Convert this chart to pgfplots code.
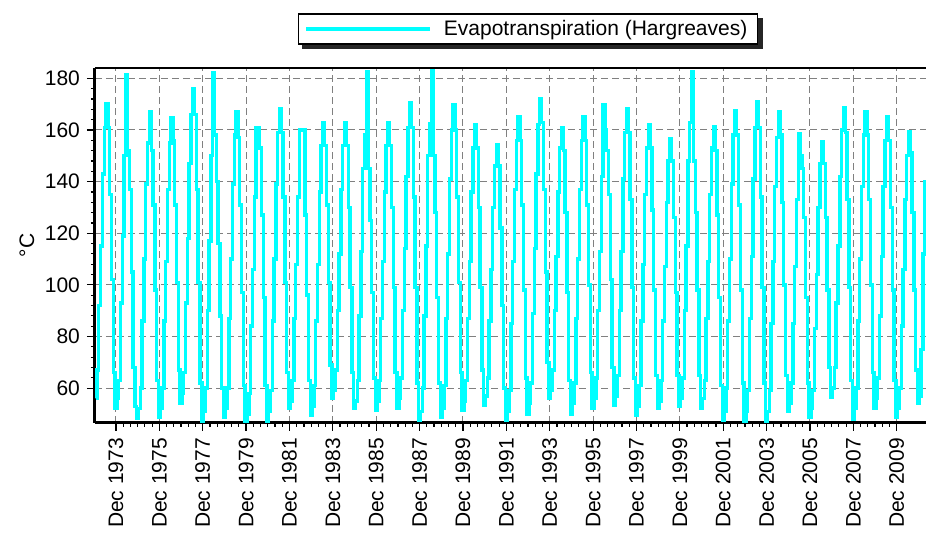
\documentclass[border=0pt]{standalone}
\usepackage{fontspec}
\setmainfont{Liberation Sans}
\usepackage{pgfplots}
\pgfplotsset{compat=1.18}
\usepackage{pgfplotstable}
\definecolor{aqua}{RGB}{0,255,255}
\pgfdeclarelayer{bg}
\pgfsetlayers{bg,main}

% monthly values, Jan 1973 ... Apr 2011
\pgfplotstableread[row sep=\\]{
v\\
56\\ 67\\ 92\\ 115\\ 143\\ 161\\ 170\\ 161\\ 135\\ 102\\ 66\\ 52\\
56\\ 63\\ 93\\ 119\\ 150\\ 181.5\\ 152\\ 137\\ 105\\ 68\\ 53\\ 48.5\\
52\\ 60\\ 86\\ 110\\ 139\\ 155\\ 167\\ 152\\ 131\\ 98\\ 63\\ 48.6\\
52\\ 60\\ 86\\ 109\\ 137\\ 155\\ 164.6\\ 156\\ 131\\ 101\\ 67\\ 54.2\\
58\\ 66\\ 93\\ 118\\ 147\\ 166\\ 176\\ 166\\ 137\\ 101\\ 62\\ 47\\
51\\ 60\\ 90\\ 117\\ 150\\ 182\\ 158\\ 140\\ 116\\ 88\\ 60\\ 48.6\\
52\\ 60\\ 87\\ 110\\ 139\\ 158\\ 167\\ 157\\ 131\\ 97\\ 61\\ 47\\
50\\ 58\\ 84\\ 106\\ 134\\ 161\\ 161\\ 153\\ 127\\ 95\\ 61\\ 47\\
51\\ 59\\ 86\\ 110\\ 139\\ 159\\ 168.3\\ 159\\ 134\\ 101\\ 66\\ 52.2\\
55\\ 63\\ 87\\ 108\\ 134\\ 160\\ 160\\ 160\\ 127\\ 96\\ 63\\ 49.5\\
53\\ 61\\ 86\\ 108\\ 136\\ 154\\ 162.8\\ 154\\ 131\\ 101\\ 69\\ 56\\
59\\ 67\\ 90\\ 112\\ 137\\ 154\\ 162.8\\ 154\\ 130\\ 99\\ 66\\ 52.2\\
55\\ 63\\ 88\\ 113\\ 145\\ 158\\ 182.4\\ 145\\ 125\\ 97\\ 64\\ 51.6\\
55\\ 63\\ 87\\ 109\\ 136\\ 154\\ 162.8\\ 154\\ 130\\ 99\\ 66\\ 52.2\\
56\\ 64\\ 90\\ 114\\ 142\\ 161\\ 170.6\\ 161\\ 134\\ 99\\ 62\\ 47.6\\
51\\ 60\\ 88\\ 115\\ 150\\ 162.6\\ 184\\ 150\\ 128\\ 95\\ 62\\ 48.6\\
52\\ 61\\ 87\\ 112\\ 141\\ 160\\ 169.8\\ 160\\ 134\\ 101\\ 66\\ 51.6\\
55\\ 63\\ 87\\ 109\\ 136\\ 153\\ 162\\ 153\\ 130\\ 99\\ 67\\ 53.5\\
57\\ 64\\ 86\\ 106\\ 130\\ 146\\ 154.3\\ 146\\ 122\\ 92\\ 60\\ 47.6\\
51\\ 59\\ 85\\ 109\\ 137\\ 156\\ 165\\ 156\\ 131\\ 98\\ 64\\ 50\\
54\\ 62\\ 89\\ 114\\ 143\\ 162\\ 172.1\\ 163\\ 137\\ 105\\ 70\\ 56\\
59\\ 67\\ 90\\ 111\\ 136\\ 153\\ 161\\ 152\\ 128\\ 97\\ 63\\ 50\\
54\\ 62\\ 87\\ 110\\ 137\\ 156\\ 165\\ 156\\ 131\\ 100\\ 66\\ 52.2\\
56\\ 64\\ 90\\ 113\\ 142\\ 169.8\\ 160\\ 152\\ 135\\ 102\\ 68\\ 53.5\\
57\\ 65\\ 90\\ 113\\ 141\\ 159\\ 168.3\\ 159\\ 133\\ 99\\ 64\\ 49.5\\
53\\ 61\\ 86\\ 108\\ 135\\ 153\\ 162\\ 153\\ 129\\ 98\\ 65\\ 52.2\\
55\\ 63\\ 86\\ 107\\ 132\\ 148\\ 156.7\\ 148\\ 126\\ 97\\ 65\\ 53\\
56\\ 64\\ 90\\ 115\\ 148\\ 163\\ 182.4\\ 148\\ 128\\ 98\\ 65\\ 52.2\\
56\\ 63\\ 87\\ 109\\ 135\\ 153\\ 161.2\\ 152\\ 127\\ 95\\ 61\\ 47.6\\
51\\ 60\\ 86\\ 110\\ 139\\ 158\\ 167.6\\ 158\\ 131\\ 98\\ 62\\ 47\\
51\\ 59\\ 87\\ 111\\ 141\\ 161\\ 170.8\\ 161\\ 134\\ 99\\ 62\\ 47\\
51\\ 59\\ 85\\ 109\\ 138\\ 157\\ 167\\ 158\\ 132\\ 100\\ 65\\ 51\\
54\\ 62\\ 85\\ 107\\ 133\\ 158.6\\ 150\\ 145\\ 126\\ 95\\ 62\\ 48.6\\
52\\ 59\\ 83\\ 104\\ 130\\ 147\\ 155.3\\ 147\\ 126\\ 98\\ 68\\ 56.6\\
60\\ 68\\ 93\\ 115\\ 142\\ 160\\ 168.8\\ 159\\ 133\\ 99\\ 63\\ 48\\
52\\ 60\\ 86\\ 110\\ 138\\ 158\\ 167\\ 158\\ 133\\ 100\\ 66\\ 52.2\\
56\\ 64\\ 88\\ 111\\ 138\\ 156\\ 165\\ 156\\ 130\\ 98\\ 63\\ 48.6\\
52\\ 60\\ 84\\ 106\\ 133\\ 150\\ 159.3\\ 151\\ 128\\ 98\\ 67\\ 54.2\\
57\\ 75\\ 112\\ 140\\
}\etdata

\begin{document}
\begin{tikzpicture}
\path[use as bounding box] (-47.5pt,-55pt) rectangle (415.5pt,211.5pt);
\begin{axis}[
  at={(0pt,0pt)}, anchor=south west,
  scale only axis, width=415.5pt, height=177.5pt,
  xmin=-0.6, xmax=459.2, ymin=46.5, ymax=184,
  axis x line*=bottom, axis y line*=left,
  axis line style={black, line width=1.5pt},
  x axis line style={-}, y axis line style={-},
  xtick={11,35,...,443},
  xticklabels={Dec 1973,Dec 1975,Dec 1977,Dec 1979,Dec 1981,Dec 1983,Dec 1985,Dec 1987,Dec 1989,Dec 1991,Dec 1993,Dec 1995,Dec 1997,Dec 1999,Dec 2001,Dec 2003,Dec 2005,Dec 2007,Dec 2009},
  minor x tick num=5,
  ytick={60,80,...,180},
  minor y tick num=4,
  tick align=outside,
  major tick length=4pt, minor tick length=2pt,
  every tick/.style={black, line width=0.6pt},
  grid=major,
  major grid style={black!50, dash pattern=on 3.5pt off 2pt, line width=0.5pt},
  tick label style={font=\fontsize{10.5pt}{12pt}\selectfont, text=black},
  /pgf/number format/assume math mode=true,
  xticklabel style={rotate=90, anchor=east},
  ylabel={°C},
  ylabel style={at={(axis description cs:-0.082,0.5)}, anchor=center, font=\fontsize{10.5pt}{12pt}\selectfont},
  legend style={name=leg, at={(0.521,1)}, anchor=south, yshift=11.5pt, draw=black, line width=0.8pt, fill=white,
    font=\fontsize{10.5pt}{12pt}\selectfont, inner xsep=3pt, inner ysep=1pt,
    /tikz/every odd column/.append style={column sep=4pt}},
  legend image code/.code={\draw[#1] (0pt,0pt) -- (62pt,0pt);},
]
\addplot[aqua, line width=1.7pt, const plot mark mid] table[x expr=\coordindex, y=v]{\etdata};
\addlegendentry{Evapotranspiration (Hargreaves)}
\draw[black, line width=0.8pt] (rel axis cs:0,1) -- (rel axis cs:1,1);
\end{axis}
\begin{pgfonlayer}{bg}
\fill[black!85] ([xshift=2.2pt,yshift=-2.2pt]leg.south west) rectangle ([xshift=2.2pt,yshift=-2.2pt]leg.north east);
\end{pgfonlayer}
\end{tikzpicture}
\end{document}
